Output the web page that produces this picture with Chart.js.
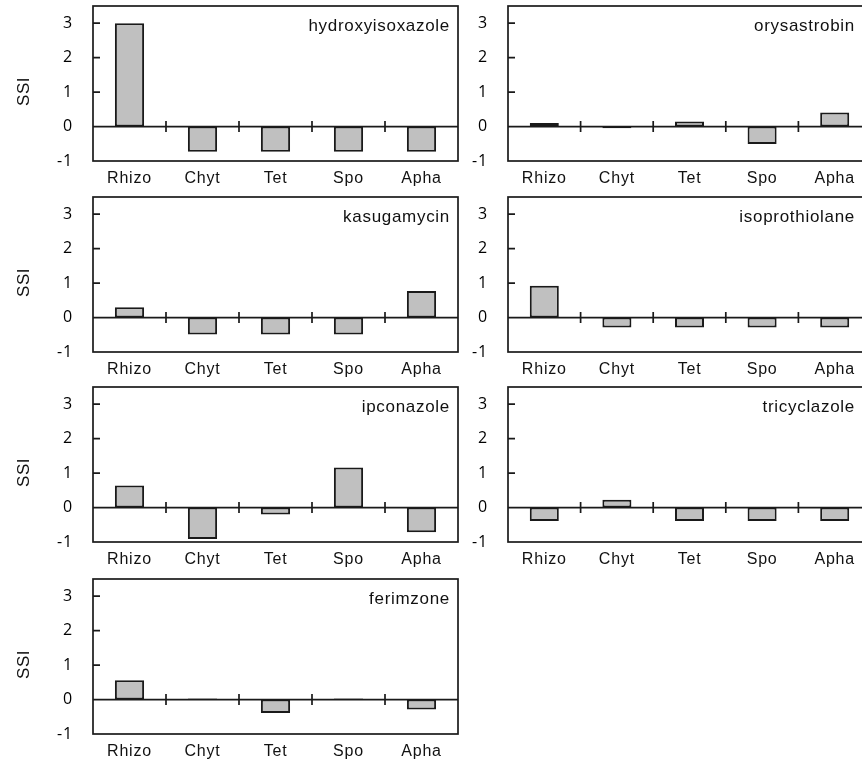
<!DOCTYPE html>
<html>
<head>
<meta charset="utf-8">
<script src="https://cdn.jsdelivr.net/npm/chart.js@4"></script>
<style>
  html, body { margin: 0; padding: 0; background: #fff; overflow: hidden; }
  body { width: 862px; height: 765px; position: relative; }
  .panel { position: absolute; height: 191px; }
  .panel canvas { display: block; }
</style>
</head>
<body>
<div id="wrap"></div>
<script>
// SSI values per compound
const categories = ['Rhizo', 'Chyt', 'Tet', 'Spo', 'Apha'];
const hydroxyisoxazole = [3.0, -0.73, -0.73, -0.73, -0.73];
const orysastrobin = [0.1, -0.05, 0.15, -0.51, 0.41];
const kasugamycin = [0.3, -0.49, -0.49, -0.49, 0.77];
const isoprothiolane = [0.92, -0.29, -0.29, -0.29, -0.29];
const ipconazole = [0.64, -0.91, -0.2, 1.16, -0.72];
const tricyclazole = [-0.39, 0.23, -0.39, -0.39, -0.39];
const ferimzone = [0.56, 0.03, -0.39, 0.03, -0.29];
const yTicks = [-1, 0, 1, 2, 3];
const yMin = -1;
const yMax = 3.5;

const panels = [
  { name: 'hydroxyisoxazole', values: hydroxyisoxazole, col: 0, row: 0 },
  { name: 'orysastrobin', values: orysastrobin, col: 1, row: 0 },
  { name: 'kasugamycin', values: kasugamycin, col: 0, row: 1 },
  { name: 'isoprothiolane', values: isoprothiolane, col: 1, row: 1 },
  { name: 'ipconazole', values: ipconazole, col: 0, row: 2 },
  { name: 'tricyclazole', values: tricyclazole, col: 1, row: 2 },
  { name: 'ferimzone', values: ferimzone, col: 0, row: 3 },
];

const rowTops = [0, 191, 381, 573];
const colSetup = [
  { left: 0, width: 470, axisWidth: 93, padRight: 12, labelInset: 8, showTitle: true },
  { left: 460, width: 420, axisWidth: 48, padRight: 9, labelInset: 16, showTitle: false },
];

const ink = '#1a1a1a';
const labelFont = '"Liberation Sans", Arial, sans-serif';

// slight tracking for all panel text, like the original figure
const tracking = {
  id: 'tracking',
  beforeDraw(chart) {
    chart.ctx.letterSpacing = '0.8px';
  },
  afterDraw(chart) {
    chart.ctx.letterSpacing = '0px';
  },
};

// frame, zero line, category separators, inner y ticks, compound name
const panelDecor = {
  id: 'panelDecor',
  afterDatasetsDraw(chart, args, opts) {
    const ctx = chart.ctx;
    const area = chart.chartArea;
    const x = chart.scales.x;
    const y = chart.scales.y;
    const y0 = y.getPixelForValue(0);
    ctx.save();
    ctx.strokeStyle = ink;
    ctx.lineWidth = 1.7;

    ctx.beginPath();
    ctx.moveTo(area.left, y0);
    ctx.lineTo(area.right, y0);
    for (let i = 0; i < categories.length - 1; i++) {
      const xb = (x.getPixelForValue(i) + x.getPixelForValue(i + 1)) / 2;
      ctx.moveTo(xb, y0 - 5.5);
      ctx.lineTo(xb, y0 + 5.5);
    }
    yTicks.forEach(function (t) {
      if (t === 0 || t === yMin) return;
      const yp = y.getPixelForValue(t);
      ctx.moveTo(area.left, yp);
      ctx.lineTo(area.left + 7, yp);
    });
    ctx.stroke();

    ctx.strokeRect(area.left, area.top, area.right - area.left, area.bottom - area.top);

    ctx.fillStyle = '#111';
    ctx.font = '17px ' + labelFont;
    ctx.letterSpacing = '0.7px';
    ctx.textAlign = 'right';
    ctx.textBaseline = 'middle';
    ctx.fillText(opts.name, area.right - opts.labelInset, area.top + 20);

    if (opts.showTitle) {
      ctx.letterSpacing = '0.5px';
      ctx.font = '17px ' + labelFont;
      ctx.translate(24, (area.top + area.bottom) / 2 + 8);
      ctx.rotate(-Math.PI / 2);
      ctx.textAlign = 'center';
      ctx.fillText('SSI', 0, 0);
    }
    ctx.restore();
  },
};

const wrap = document.getElementById('wrap');

panels.forEach(function (p) {
  const col = colSetup[p.col];
  const div = document.createElement('div');
  div.className = 'panel';
  div.style.left = col.left + 'px';
  div.style.top = rowTops[p.row] + 'px';
  div.style.width = col.width + 'px';
  const canvas = document.createElement('canvas');
  div.appendChild(canvas);
  wrap.appendChild(div);

  new Chart(canvas, {
    type: 'bar',
    data: {
      labels: categories,
      datasets: [
        {
          data: p.values,
          backgroundColor: '#c0c0c0',
          borderColor: ink,
          borderWidth: 2,
          borderSkipped: false,
          categoryPercentage: 1,
          barPercentage: 0.4,
        },
      ],
    },
    options: {
      responsive: true,
      maintainAspectRatio: false,
      animation: false,
      layout: {
        padding: { top: 6, right: col.padRight, left: 0, bottom: 0 },
      },
      plugins: {
        legend: { display: false },
        tooltip: { enabled: false },
        panelDecor: { name: p.name, labelInset: col.labelInset, showTitle: col.showTitle },
      },
      scales: {
        x: {
          offset: true,
          grid: { display: false, drawTicks: false },
          border: { display: false },
          ticks: {
            padding: 8,
            color: '#111',
            maxRotation: 0,
            font: { family: labelFont, size: 16 },
          },
          afterFit: function (scale) {
            scale.height = 30;
          },
        },
        y: {
          min: yMin,
          max: yMax,
          grid: { display: false, drawTicks: false },
          border: { display: false },
          ticks: {
            padding: 20,
            color: '#000',
            font: { family: '"Open Sans", sans-serif', size: 16 },
          },
          afterBuildTicks: function (scale) {
            scale.ticks = yTicks.map(function (v) {
              return { value: v };
            });
          },
          afterFit: function (scale) {
            scale.width = col.axisWidth;
            scale.paddingTop = 0;
            scale.paddingBottom = 0;
          },
        },
      },
    },
    plugins: [tracking, panelDecor],
  });
});
</script>
</body>
</html>
